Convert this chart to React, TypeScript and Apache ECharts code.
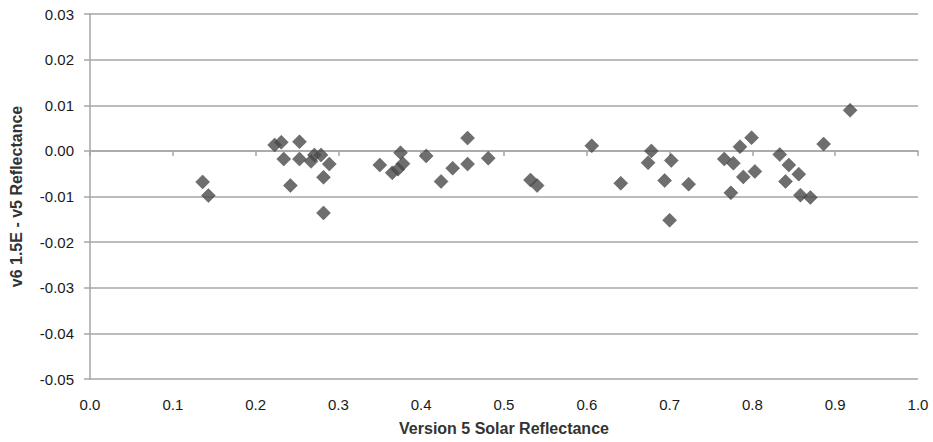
import React, { useEffect, useRef } from "react";
import * as echarts from "echarts";

const v5Reflectance: number[] = [
  0.136, 0.143, 0.223, 0.231, 0.234, 0.242, 0.253, 0.253, 0.267, 0.271, 0.279, 0.282, 0.289, 0.282,
  0.350, 0.365, 0.372, 0.375, 0.378, 0.406, 0.424, 0.438, 0.456, 0.456, 0.481,
  0.532, 0.540, 0.606, 0.641, 0.674, 0.678, 0.694, 0.700, 0.702, 0.723,
  0.766, 0.774, 0.777, 0.785, 0.789, 0.799, 0.803, 0.833, 0.840, 0.844, 0.856, 0.858, 0.870, 0.886, 0.918,
];
const diffReflectance: number[] = [
  -0.0068, -0.0098, 0.0013, 0.0019, -0.0018, -0.0076, 0.0020, -0.0018, -0.0023, -0.0009, -0.0009, -0.0058, -0.0029, -0.0136,
  -0.0031, -0.0048, -0.0040, -0.0004, -0.0028, -0.0011, -0.0067, -0.0038, 0.0028, -0.0029, -0.0016,
  -0.0064, -0.0076, 0.0011, -0.0071, -0.0026, 0.0000, -0.0065, -0.0152, -0.0021, -0.0073,
  -0.0018, -0.0092, -0.0027, 0.0009, -0.0057, 0.0029, -0.0045, -0.0008, -0.0067, -0.0031, -0.0051, -0.0097, -0.0102, 0.0015, 0.0089,
];

const xTitle = "Version 5 Solar Reflectance";
const yTitle = "v6 1.5E - v5 Reflectance";

export default function App() {
  const ref = useRef<HTMLDivElement>(null);
  useEffect(() => {
    if (!ref.current) return;
    const chart = echarts.init(ref.current, null, { renderer: "svg" });
    const font = "'Liberation Sans', Arial, sans-serif";
    const axisGray = "#a6a6a6";
    chart.setOption({
      animation: false,
      backgroundColor: "#ffffff",
      grid: { left: 89, right: 15, top: 14, bottom: 63, containLabel: false },
      xAxis: [
        {
          type: "value",
          position: "bottom",
          min: 0,
          max: 1,
          interval: 0.1,
          name: xTitle,
          nameLocation: "middle",
          nameGap: 41,
          nameTextStyle: { fontFamily: font, fontSize: 16, fontWeight: "bold", color: "#333" },
          axisLine: { show: false, onZero: false },
          axisTick: { show: false },
          splitLine: { show: false },
          axisLabel: {
            margin: 18,
            fontFamily: font,
            fontSize: 15,
            color: "#1a1a1a",
            formatter: (v: number) => v.toFixed(1),
          },
        },
        {
          type: "value",
          position: "top",
          min: 0,
          max: 1,
          interval: 0.1,
          axisLine: { show: true, onZero: true, lineStyle: { color: axisGray, width: 1.5 } },
          axisTick: { show: true, inside: true, length: 5, lineStyle: { color: axisGray, width: 1.5 } },
          axisLabel: { show: false },
          splitLine: { show: false },
        },
      ],
      yAxis: {
        type: "value",
        min: -0.05,
        max: 0.03,
        interval: 0.01,
        name: yTitle,
        nameLocation: "middle",
        nameGap: 66,
        nameTextStyle: { fontFamily: font, fontSize: 16, fontWeight: "bold", color: "#333" },
        axisLine: { show: true, lineStyle: { color: axisGray, width: 1.5 } },
        axisTick: { show: true, length: 6, lineStyle: { color: axisGray, width: 1.5 } },
        splitLine: { show: true, lineStyle: { color: axisGray, width: 1.5 } },
        axisLabel: {
          margin: 16,
          fontFamily: font,
          fontSize: 15,
          color: "#1a1a1a",
          formatter: (v: number) => v.toFixed(2),
        },
      },
      series: [
        {
          type: "scatter",
          xAxisIndex: 0,
          symbol: "diamond",
          symbolSize: 14,
          itemStyle: { color: "#4a4a4a", borderColor: "#3c3c3c", borderWidth: 0.5 },
          data: v5Reflectance.map((x, i) => [x, diffReflectance[i]]),
        },
      ],
    });
    return () => chart.dispose();
  }, []);
  return (
    <div
      ref={ref}
      style={{ position: "fixed", left: 0, top: 0, width: 933, height: 442 }}
    />
  );
}
